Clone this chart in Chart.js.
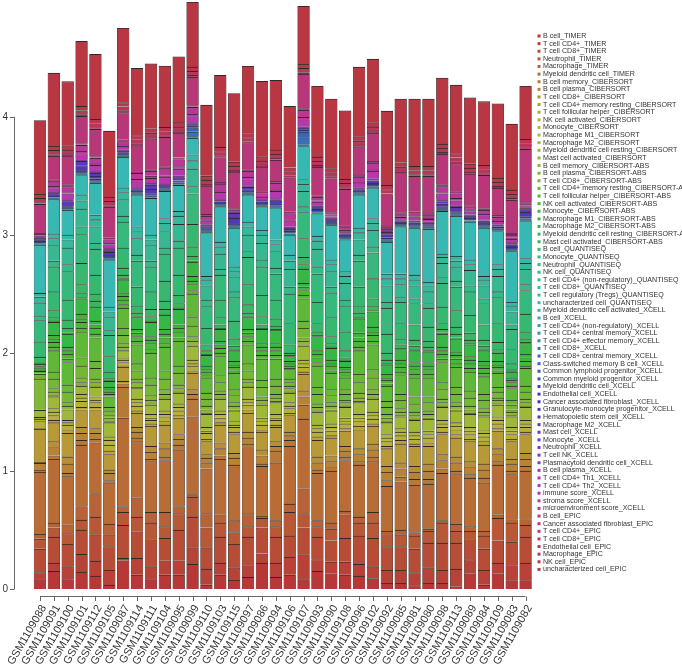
<!DOCTYPE html>
<html>
<head>
<meta charset="utf-8">
<script src="https://cdn.jsdelivr.net/npm/chart.js@4.4.1/dist/chart.umd.min.js"></script>
<style>
  html, body { margin: 0; padding: 0; background: #fff; }
  #wrap { width: 682px; height: 669px; }
</style>
</head>
<body>
<div id="wrap"><canvas id="chart" width="682" height="669"></canvas></div>
<script>
// samples, left to right
const samples = ["GSM1109088","GSM1109091","GSM1109100","GSM1109101","GSM1109112","GSM1109105",
  "GSM1109087","GSM1109114","GSM1109111","GSM1109104","GSM1109095","GSM1109099","GSM1109110",
  "GSM1109103","GSM1109115","GSM1109097","GSM1109086","GSM1109094","GSM1109106","GSM1109107",
  "GSM1109093","GSM1109090","GSM1109108","GSM1109096","GSM1109102","GSM1109092","GSM1109085",
  "GSM1109081","GSM1109080","GSM1109098","GSM1109113","GSM1109089","GSM1109084","GSM1109109",
  "GSM1109083","GSM1109082"];

const yTicks = [0, 1, 2, 3, 4];

// cell types per method (stacked bottom -> top in this order)
const timerTypes = ["B cell","T cell CD4+","T cell CD8+","Neutrophil","Macrophage","Myeloid dendritic cell"];
const ciberTypes = ["B cell memory","B cell plasma","T cell CD8+","T cell CD4+ memory resting",
  "T cell follicular helper","NK cell activated","Monocyte","Macrophage M1","Macrophage M2",
  "Myeloid dendritic cell resting","Mast cell activated"];
const quantiTypes = ["B cell","Monocyte","Neutrophil","NK cell","T cell CD4+ (non-regulatory)",
  "T cell CD8+","T cell regulatory (Tregs)","uncharacterized cell"];
const xcellTypes = ["Myeloid dendritic cell activated","B cell","T cell CD4+ (non-regulatory)",
  "T cell CD4+ central memory","T cell CD4+ effector memory","T cell CD8+","T cell CD8+ central memory",
  "Class-switched memory B cell","Common lymphoid progenitor","Common myeloid progenitor",
  "Myeloid dendritic cell","Endothelial cell","Cancer associated fibroblast",
  "Granulocyte-monocyte progenitor","Hematopoietic stem cell","Macrophage M2","Mast cell",
  "Monocyte","Neutrophil","T cell NK","Plasmacytoid dendritic cell","B cell plasma",
  "T cell CD4+ Th1","T cell CD4+ Th2","immune score","stroma score","microenvironment score"];
const epicTypes = ["B cell","Cancer associated fibroblast","T cell CD4+","T cell CD8+",
  "Endothelial cell","Macrophage","NK cell","uncharacterized cell"];

// one row per sample, columns follow the type lists above
const timer = [
  [.08,.06,.20,.085,.04,.525],[.15,.07,.22,.08,.04,.54],[.08,.11,.19,.09,.075,.415],
  [.144,.15,.206,.085,.115,.52],[.11,.127,.223,.15,.20,.43],[.034,.126,.20,.10,.09,.35],
  [.24,.02,.28,.11,.05,.75],[.12,.14,.226,.124,.164,.476],[.08,.11,.23,.14,.09,.43],
  [.12,.12,.19,.10,.12,.44],[.12,.12,.26,.14,.06,.48],[.21,.14,.26,.17,.02,.66],
  [.035,.135,.18,.17,.12,.38],[.12,.10,.22,.12,.07,.47],[.075,.105,.20,.10,.10,.45],
  [.10,.10,.24,.09,.11,.56],[.22,.08,.22,.08,.02,.42],[.10,.12,.22,.09,.05,.49],
  [.12,.15,.18,.20,.07,.49],[.08,.21,.23,.12,.21,.59],[.15,.10,.19,.09,.05,.40],
  [.13,.10,.18,.10,.05,.44],[.12,.11,.20,.20,.03,.43],[.11,.10,.24,.11,.05,.44],
  [.09,.10,.24,.13,.09,.43],[.05,.11,.20,.11,.02,.38],[.05,.11,.20,.10,.04,.41],
  [.03,.11,.20,.11,.03,.40],[.05,.13,.21,.10,.02,.38],[.05,.11,.23,.17,.02,.40],
  [.02,.15,.22,.10,.06,.42],[.13,.12,.17,.07,.04,.41],[.035,.125,.18,.11,.04,.41],
  [.13,.09,.19,.19,.03,.42],[.07,.13,.20,.16,.03,.38],[.07,.15,.22,.10,.05,.41]
];

const ciber = [
  [.02,.055,.01,.28,.005,.06,.02,.015,.06,0,.005],[.03,.07,.05,.16,.02,.04,.03,.03,.10,.01,.03],
  [.02,.08,.06,.20,.03,.04,.02,.02,.09,0,.03],[.04,.06,.05,.15,.02,.05,.03,.03,.07,.01,.02],
  [.03,.05,.04,.16,.02,.04,.02,.03,.08,.01,.03],[.02,.06,.03,.13,.03,.05,.04,.03,.12,.01,.03],
  [.26,.03,.02,.12,.01,.03,.02,.02,.06,0,.03],[.03,.05,.04,.12,.02,.04,.03,.03,.09,.01,.04],
  [.02,.06,.05,.17,.02,.03,.02,.03,.08,.01,.03],[.03,.07,.05,.15,.03,.04,.02,.03,.10,.01,.03],
  [.04,.05,.04,.14,.02,.04,.03,.03,.09,.01,.03],[.15,.04,.04,.14,.02,.04,.02,.03,.12,.01,.03],
  [.05,.04,.03,.11,.02,.05,.02,.03,.11,.01,.03],[.03,.06,.05,.15,.02,.04,.03,.03,.10,.01,.03],
  [.02,.06,.04,.16,.02,.04,.02,.03,.09,.01,.03],[.03,.05,.05,.16,.03,.04,.02,.03,.10,.01,.03],
  [.02,.07,.05,.15,.02,.04,.03,.03,.11,.01,.03],[.10,.04,.04,.12,.02,.04,.02,.03,.10,.01,.03],
  [.05,.04,.03,.14,.02,.04,.02,.03,.08,.01,.03],[.12,.07,.05,.14,.02,.04,.03,.03,.12,.01,.03],
  [.03,.06,.05,.14,.03,.04,.03,.03,.11,.01,.03],[.03,.05,.05,.15,.02,.04,.03,.03,.11,.01,.03],
  [.03,.05,.04,.13,.02,.04,.02,.03,.09,.01,.03],[.03,.06,.05,.16,.03,.04,.03,.03,.10,.01,.03],
  [.04,.06,.05,.15,.02,.04,.03,.03,.11,.01,.03],[.05,.07,.05,.15,.02,.04,.03,.03,.10,.01,.03],
  [.04,.07,.05,.16,.03,.04,.03,.03,.10,.01,.03],[.05,.06,.05,.17,.02,.04,.03,.03,.10,.01,.03],
  [.04,.07,.06,.15,.03,.04,.03,.03,.10,.01,.03],[.04,.07,.05,.17,.02,.04,.03,.03,.11,.01,.03],
  [.03,.07,.05,.16,.03,.04,.03,.03,.10,.01,.03],[.03,.06,.05,.17,.02,.04,.03,.03,.11,.01,.03],
  [.04,.07,.05,.16,.03,.04,.03,.03,.11,.01,.03],[.03,.06,.05,.15,.02,.04,.03,.03,.10,.01,.03],
  [.03,.06,.04,.15,.02,.04,.03,.03,.09,.01,.03],[.04,.06,.05,.16,.02,.04,.03,.03,.11,.01,.03]
];

const ciberAbs = [
  [.26,.01,.03,.005,.02,.01,.02,.01,.02,.005,.005],[.03,.08,.06,.18,.03,.04,.03,.03,.11,.01,.03],
  [.03,.09,.06,.19,.03,.04,.03,.03,.11,.01,.04],[.04,.10,.07,.22,.03,.05,.03,.04,.13,.01,.04],
  [.03,.09,.06,.20,.03,.05,.03,.03,.12,.01,.04],[.02,.04,.03,.09,.02,.02,.02,.02,.05,.01,.02],
  [.03,.07,.06,.17,.03,.04,.03,.03,.11,.01,.03],[.03,.07,.06,.16,.03,.04,.03,.03,.10,.01,.03],
  [.04,.09,.06,.21,.03,.05,.03,.03,.12,.01,.04],[.04,.09,.07,.20,.03,.05,.03,.04,.12,.01,.04],
  [.03,.10,.06,.21,.03,.05,.03,.03,.13,.01,.04],[.04,.09,.07,.20,.03,.05,.03,.04,.12,.01,.04],
  [.03,.06,.05,.13,.02,.03,.02,.03,.09,.01,.03],[.03,.07,.06,.16,.03,.04,.03,.03,.10,.01,.03],
  [.03,.06,.05,.14,.02,.03,.02,.03,.09,.01,.03],[.03,.07,.06,.16,.03,.04,.03,.03,.10,.01,.03],
  [.03,.08,.06,.18,.03,.04,.03,.03,.12,.01,.03],[.03,.07,.06,.17,.03,.04,.03,.03,.11,.01,.03],
  [.02,.03,.03,.08,.01,.02,.02,.02,.04,.01,.02],[.03,.08,.06,.19,.03,.04,.03,.03,.12,.01,.03],
  [.03,.08,.06,.18,.03,.04,.03,.03,.12,.01,.03],[.03,.06,.05,.14,.02,.04,.02,.03,.10,.01,.03],
  [.02,.05,.04,.10,.02,.03,.02,.02,.05,.01,.02],[.04,.09,.07,.20,.03,.05,.03,.04,.12,.01,.04],
  [.04,.10,.07,.21,.03,.05,.03,.04,.13,.01,.04],[.03,.06,.05,.13,.02,.03,.02,.03,.08,.01,.03],
  [.03,.07,.05,.16,.03,.04,.03,.03,.09,.01,.03],[.03,.07,.06,.16,.03,.04,.03,.03,.10,.01,.03],
  [.03,.07,.05,.16,.03,.04,.03,.03,.09,.01,.03],[.03,.08,.06,.17,.03,.04,.03,.03,.11,.01,.03],
  [.03,.07,.06,.17,.03,.04,.03,.03,.11,.01,.03],[.03,.07,.06,.16,.03,.04,.03,.03,.10,.01,.03],
  [.03,.07,.05,.15,.03,.04,.03,.03,.09,.01,.03],[.02,.05,.04,.12,.02,.03,.02,.03,.07,.01,.02],
  [.02,.04,.04,.10,.02,.03,.02,.02,.05,.01,.01],[.03,.06,.05,.15,.02,.04,.03,.03,.09,.01,.03]
];

const quanti = [
  [.05,.13,.18,.04,.11,.05,.03,.41],[.06,.16,.21,.05,.13,.06,.04,.29],[.07,.17,.24,.06,.14,.07,.04,.21],
  [.07,.18,.25,.06,.15,.07,.05,.17],[.06,.16,.22,.05,.14,.06,.04,.27],[.05,.13,.18,.04,.11,.05,.04,.40],
  [.06,.17,.22,.05,.14,.06,.04,.26],[.06,.16,.22,.05,.14,.06,.04,.27],[.06,.15,.21,.05,.13,.05,.04,.31],
  [.07,.17,.23,.05,.14,.07,.04,.23],[.07,.17,.23,.06,.14,.07,.04,.22],[.08,.19,.26,.06,.15,.07,.05,.14],
  [.05,.14,.19,.05,.12,.05,.03,.37],[.06,.15,.21,.05,.13,.06,.04,.30],[.06,.15,.20,.05,.12,.05,.04,.33],
  [.07,.17,.23,.05,.14,.07,.04,.23],[.07,.18,.24,.06,.14,.07,.04,.20],[.06,.16,.22,.05,.14,.06,.04,.27],
  [.07,.18,.25,.06,.15,.07,.05,.17],[.06,.16,.22,.05,.13,.06,.04,.28],[.07,.18,.24,.06,.15,.07,.04,.19],
  [.06,.16,.21,.05,.13,.06,.04,.29],[.06,.16,.22,.05,.14,.06,.04,.27],[.06,.16,.22,.05,.13,.06,.04,.28],
  [.06,.17,.22,.05,.14,.06,.04,.26],[.06,.16,.22,.05,.14,.06,.04,.27],[.05,.13,.18,.04,.11,.05,.04,.40],
  [.05,.13,.18,.04,.11,.05,.04,.40],[.05,.12,.16,.04,.10,.05,.03,.45],[.05,.14,.20,.05,.12,.05,.03,.36],
  [.06,.14,.20,.05,.12,.05,.04,.34],[.06,.15,.20,.05,.13,.05,.04,.32],[.05,.13,.18,.04,.11,.05,.03,.41],
  [.06,.16,.22,.05,.13,.06,.04,.28],[.05,.12,.17,.04,.11,.05,.03,.43],[.06,.15,.20,.05,.13,.05,.04,.32]
];

const xcell = [
  [.002,.002,.002,.003,.002,.002,.003,.002,.002,.001,.002,.008,.006,.001,.017,.004,.002,.001,.001,.001,.002,.002,.004,.003,.004,.002,.004],
  [.002,.002,.002,.003,.002,.002,.003,.002,.002,.001,.002,.008,.006,.001,.004,.004,.002,.001,.001,.001,.002,.002,.004,.003,.04,.01,.04],
  [.002,.002,.002,.003,.002,.002,.003,.002,.002,.001,.002,.008,.006,.001,.004,.032,.002,.001,.001,.001,.002,.002,.004,.003,.05,.01,.05],
  [.002,.002,.002,.003,.002,.002,.003,.002,.002,.001,.002,.008,.006,.001,.04,.036,.002,.001,.001,.001,.002,.002,.004,.003,.05,.02,.05],
  [.002,.002,.002,.003,.002,.002,.003,.002,.002,.001,.002,.008,.006,.001,.02,.026,.002,.001,.001,.001,.002,.002,.004,.003,.05,.01,.05],
  [.002,.002,.002,.003,.002,.002,.003,.002,.002,.001,.002,.008,.006,.001,.025,.021,.002,.001,.001,.001,.002,.002,.004,.003,.03,.01,.03],
  [.002,.002,.002,.003,.002,.002,.003,.002,.002,.001,.002,.008,.006,.001,.004,.004,.002,.001,.001,.001,.002,.002,.004,.003,.03,.01,.03],
  [.002,.002,.002,.003,.002,.002,.003,.002,.002,.001,.002,.008,.006,.001,.004,.004,.002,.001,.001,.001,.002,.002,.004,.003,.05,.02,.05],
  [.002,.002,.002,.003,.002,.002,.003,.002,.002,.001,.002,.008,.006,.001,.04,.036,.002,.001,.001,.001,.002,.002,.004,.003,.04,.02,.04],
  [.002,.002,.002,.003,.002,.002,.003,.002,.002,.001,.002,.008,.006,.001,.004,.004,.002,.001,.001,.001,.002,.002,.004,.003,.06,.01,.06],
  [.002,.002,.002,.003,.002,.002,.003,.002,.002,.001,.002,.008,.006,.001,.004,.022,.002,.001,.001,.001,.002,.002,.004,.003,.06,.02,.06],
  [.002,.002,.002,.003,.002,.002,.04,.035,.002,.001,.002,.008,.006,.001,.004,.004,.002,.001,.001,.001,.002,.002,.004,.003,.06,.01,.06],
  [.002,.002,.002,.003,.002,.002,.003,.002,.002,.001,.002,.008,.006,.001,.012,.004,.002,.001,.001,.001,.002,.002,.004,.003,.03,.01,.03],
  [.002,.002,.002,.003,.002,.002,.003,.002,.002,.001,.002,.008,.006,.001,.004,.004,.002,.001,.001,.001,.002,.002,.004,.003,.06,.01,.06],
  [.002,.002,.002,.003,.002,.002,.003,.002,.002,.001,.002,.008,.006,.001,.045,.04,.002,.001,.001,.001,.002,.002,.004,.003,.004,.002,.004],
  [.002,.002,.002,.003,.002,.002,.003,.002,.002,.001,.002,.008,.006,.001,.004,.022,.002,.001,.001,.001,.002,.002,.004,.003,.05,.02,.05],
  [.002,.002,.002,.003,.002,.002,.003,.002,.002,.001,.002,.008,.006,.001,.004,.004,.002,.001,.001,.001,.002,.002,.004,.003,.02,.01,.02],
  [.002,.002,.002,.003,.002,.002,.003,.002,.002,.001,.002,.008,.006,.001,.022,.004,.002,.001,.001,.001,.002,.002,.004,.003,.06,.01,.06],
  [.002,.002,.002,.003,.002,.002,.003,.002,.002,.001,.002,.008,.006,.001,.012,.004,.002,.001,.001,.001,.002,.002,.004,.003,.05,.01,.05],
  [.002,.002,.002,.003,.002,.002,.06,.05,.002,.001,.002,.008,.006,.001,.004,.004,.002,.001,.001,.001,.002,.002,.004,.003,.06,.02,.06],
  [.002,.002,.002,.003,.002,.002,.003,.002,.002,.001,.002,.016,.006,.001,.004,.004,.002,.001,.001,.001,.002,.002,.004,.003,.03,.01,.03],
  [.002,.002,.002,.003,.002,.002,.003,.002,.002,.001,.002,.008,.006,.001,.004,.004,.002,.001,.001,.001,.002,.002,.004,.003,.013,.004,.013],
  [.002,.002,.002,.003,.002,.002,.003,.002,.002,.001,.002,.008,.006,.001,.004,.004,.002,.001,.001,.001,.002,.002,.004,.003,.018,.004,.018],
  [.002,.002,.002,.003,.002,.002,.003,.002,.002,.001,.002,.008,.006,.001,.004,.004,.002,.001,.001,.001,.002,.002,.004,.003,.04,.01,.04],
  [.002,.002,.002,.003,.002,.002,.003,.002,.002,.001,.002,.008,.006,.001,.022,.004,.002,.001,.001,.001,.002,.002,.004,.003,.06,.01,.06],
  [.002,.002,.002,.003,.002,.002,.003,.002,.002,.001,.002,.008,.006,.001,.025,.021,.002,.001,.001,.001,.002,.002,.004,.003,.008,.004,.008],
  [.002,.002,.002,.003,.002,.002,.003,.002,.002,.001,.002,.008,.006,.001,.004,.004,.002,.001,.001,.001,.002,.002,.004,.003,.018,.004,.018],
  [.002,.002,.002,.003,.002,.002,.003,.002,.002,.001,.002,.008,.006,.001,.004,.004,.002,.001,.001,.001,.002,.002,.004,.003,.025,.01,.025],
  [.002,.002,.002,.003,.002,.002,.003,.002,.002,.001,.002,.008,.006,.001,.004,.004,.002,.001,.001,.001,.002,.002,.004,.003,.02,.01,.02],
  [.002,.002,.002,.003,.002,.002,.003,.002,.002,.001,.002,.008,.006,.001,.025,.021,.002,.001,.001,.001,.002,.002,.004,.003,.05,.01,.05],
  [.002,.002,.002,.003,.002,.002,.003,.002,.002,.001,.002,.008,.006,.001,.004,.032,.002,.001,.001,.001,.002,.002,.004,.003,.04,.02,.04],
  [.002,.002,.002,.003,.002,.002,.003,.002,.002,.001,.002,.008,.006,.001,.004,.004,.002,.001,.001,.001,.002,.002,.004,.003,.025,.01,.025],
  [.002,.002,.002,.003,.002,.002,.003,.002,.002,.001,.002,.008,.006,.001,.012,.004,.002,.001,.001,.001,.002,.002,.004,.003,.035,.01,.035],
  [.002,.002,.002,.003,.002,.002,.003,.002,.002,.001,.002,.008,.006,.001,.004,.004,.002,.001,.001,.001,.002,.002,.004,.003,.025,.01,.025],
  [.002,.002,.002,.003,.002,.002,.003,.002,.002,.001,.002,.008,.006,.001,.022,.004,.002,.001,.001,.001,.002,.002,.004,.003,.025,.01,.025],
  [.002,.002,.002,.003,.002,.002,.003,.002,.002,.001,.002,.008,.006,.001,.035,.031,.002,.001,.001,.001,.002,.002,.004,.003,.008,.004,.008]
];

const epic = [
  [.005,.01,.245,.005,.01,.035,.035,.625],[.005,.01,.20,.005,.01,.035,.035,.62],[.005,.01,.245,.005,.01,.035,.035,.545],
  [.005,.01,.23,.005,.01,.035,.035,.55],[.005,.01,.23,.005,.01,.035,.035,.55],[.005,.01,.26,.005,.01,.035,.035,.56],
  [.005,.01,.23,.005,.01,.035,.035,.63],[.005,.01,.22,.005,.01,.035,.035,.57],[.005,.01,.26,.005,.01,.035,.035,.55],
  [.005,.01,.25,.005,.01,.035,.035,.52],[.005,.01,.21,.005,.01,.035,.035,.56],[.005,.01,.24,.005,.01,.035,.035,.55],
  [.005,.01,.24,.005,.01,.035,.035,.60],[.005,.01,.21,.005,.01,.035,.035,.61],[.005,.01,.31,.005,.01,.035,.035,.58],
  [.005,.01,.22,.005,.01,.035,.035,.57],[.005,.01,.21,.005,.01,.035,.035,.64],[.005,.01,.18,.005,.01,.035,.035,.59],
  [.005,.01,.29,.005,.01,.035,.035,.52],[.005,.01,.29,.005,.01,.035,.035,.49],[.005,.01,.24,.005,.01,.035,.035,.60],
  [.005,.01,.29,.005,.01,.035,.035,.59],[.005,.01,.31,.005,.01,.035,.035,.58],[.005,.01,.24,.005,.01,.035,.035,.59],
  [.005,.01,.24,.005,.01,.035,.035,.54],[.005,.01,.26,.005,.01,.035,.035,.63],[.005,.01,.34,.005,.01,.035,.035,.54],
  [.005,.01,.30,.005,.01,.035,.035,.57],[.005,.01,.32,.005,.01,.035,.035,.57],[.005,.01,.26,.005,.01,.035,.035,.56],
  [.005,.01,.24,.005,.01,.035,.035,.58],[.005,.01,.27,.005,.01,.035,.035,.56],[.005,.01,.28,.005,.01,.035,.035,.54],
  [.005,.01,.23,.005,.01,.035,.035,.63],[.005,.01,.28,.005,.01,.035,.035,.56],[.005,.01,.45,.005,.01,.035,.035,.45]
];

const methods = [
  [timer, timerTypes, "TIMER"],
  [ciber, ciberTypes, "CIBERSORT"],
  [ciberAbs, ciberTypes, "CIBERSORT-ABS"],
  [quanti, quantiTypes, "QUANTISEQ"],
  [xcell, xcellTypes, "XCELL"],
  [epic, epicTypes, "EPIC"]
];

function hsv(h, s, v) {
  const i = Math.floor(h * 6), f = h * 6 - i;
  const p = v * (1 - s), q = v * (1 - f * s), t = v * (1 - (1 - f) * s);
  const rgb = [[v,t,p],[q,v,p],[p,v,t],[p,q,v],[t,p,v],[v,p,q]][i % 6];
  return "rgb(" + rgb.map(c => Math.round(c * 255)).join(",") + ")";
}

const datasets = [];
methods.forEach(([table, types, suffix]) => {
  types.forEach((t, j) => {
    datasets.push({ label: t + "_" + suffix, data: table.map(row => row[j]) });
  });
});
datasets.forEach((d, k) => {
  d.backgroundColor = hsv(k / datasets.length, 0.7, 0.72);
  d.borderColor = "#2e2a28";
  d.borderWidth = { top: 0.9, left: 0.5, right: 0.5, bottom: 0 };
  d.borderSkipped = false;
  d.inflateAmount = 0.2;
});

const FONT = '"Liberation Sans", Arial, sans-serif';

// R-style axes and legend, positioned from the chart scales
const baseAxes = {
  id: "baseAxes",
  afterDraw(chart) {
    const ctx = chart.ctx, xs = chart.scales.x, ys = chart.scales.y;
    ctx.save();
    ctx.strokeStyle = "#666";
    ctx.lineWidth = 1;
    ctx.beginPath();
    const ax = 14.5;
    ctx.moveTo(ax, ys.getPixelForValue(yTicks[0]));
    ctx.lineTo(ax, ys.getPixelForValue(yTicks[yTicks.length - 1]));
    yTicks.forEach(v => {
      const p = Math.round(ys.getPixelForValue(v)) + 0.5;
      ctx.moveTo(ax, p); ctx.lineTo(ax - 4.5, p);
    });
    const ay = 596.5;
    ctx.moveTo(xs.getPixelForValue(0), ay);
    ctx.lineTo(xs.getPixelForValue(samples.length - 1), ay);
    samples.forEach((s, i) => {
      const p = Math.round(xs.getPixelForValue(i)) + 0.5;
      ctx.moveTo(p, ay); ctx.lineTo(p, ay + 4.5);
    });
    ctx.stroke();

    ctx.fillStyle = "#333";
    ctx.font = "10px " + FONT;
    ctx.textAlign = "right";
    ctx.textBaseline = "middle";
    yTicks.forEach(v => ctx.fillText(String(v), 8, ys.getPixelForValue(v)));

    ctx.font = "11px " + FONT;
    samples.forEach((s, i) => {
      ctx.save();
      ctx.translate(xs.getPixelForValue(i) + 4, 606);
      ctx.rotate(-Math.PI / 3);
      ctx.fillText(s, 0, 0);
      ctx.restore();
    });

    ctx.font = "7.1px " + FONT;
    ctx.textAlign = "left";
    chart.data.datasets.forEach((d, k) => {
      const y = 36 + k * 7.62;
      ctx.fillStyle = d.backgroundColor;
      ctx.fillRect(537.5, y - 1.5, 3, 3);
      ctx.fillStyle = "#333";
      ctx.fillText(d.label, 543, y);
    });
    ctx.restore();
  }
};

new Chart(document.getElementById("chart"), {
  type: "bar",
  data: { labels: samples, datasets: datasets },
  options: {
    responsive: false,
    animation: false,
    layout: { padding: { left: 33, right: 149.5, top: 0, bottom: 80 } },
    datasets: { bar: { barPercentage: 0.86, categoryPercentage: 1.0 } },
    scales: {
      x: { stacked: true, display: false },
      y: { stacked: true, display: false, min: 0, max: 4.99 }
    },
    plugins: { legend: { display: false }, tooltip: { enabled: false } }
  },
  plugins: [baseAxes]
});
</script>
</body>
</html>
